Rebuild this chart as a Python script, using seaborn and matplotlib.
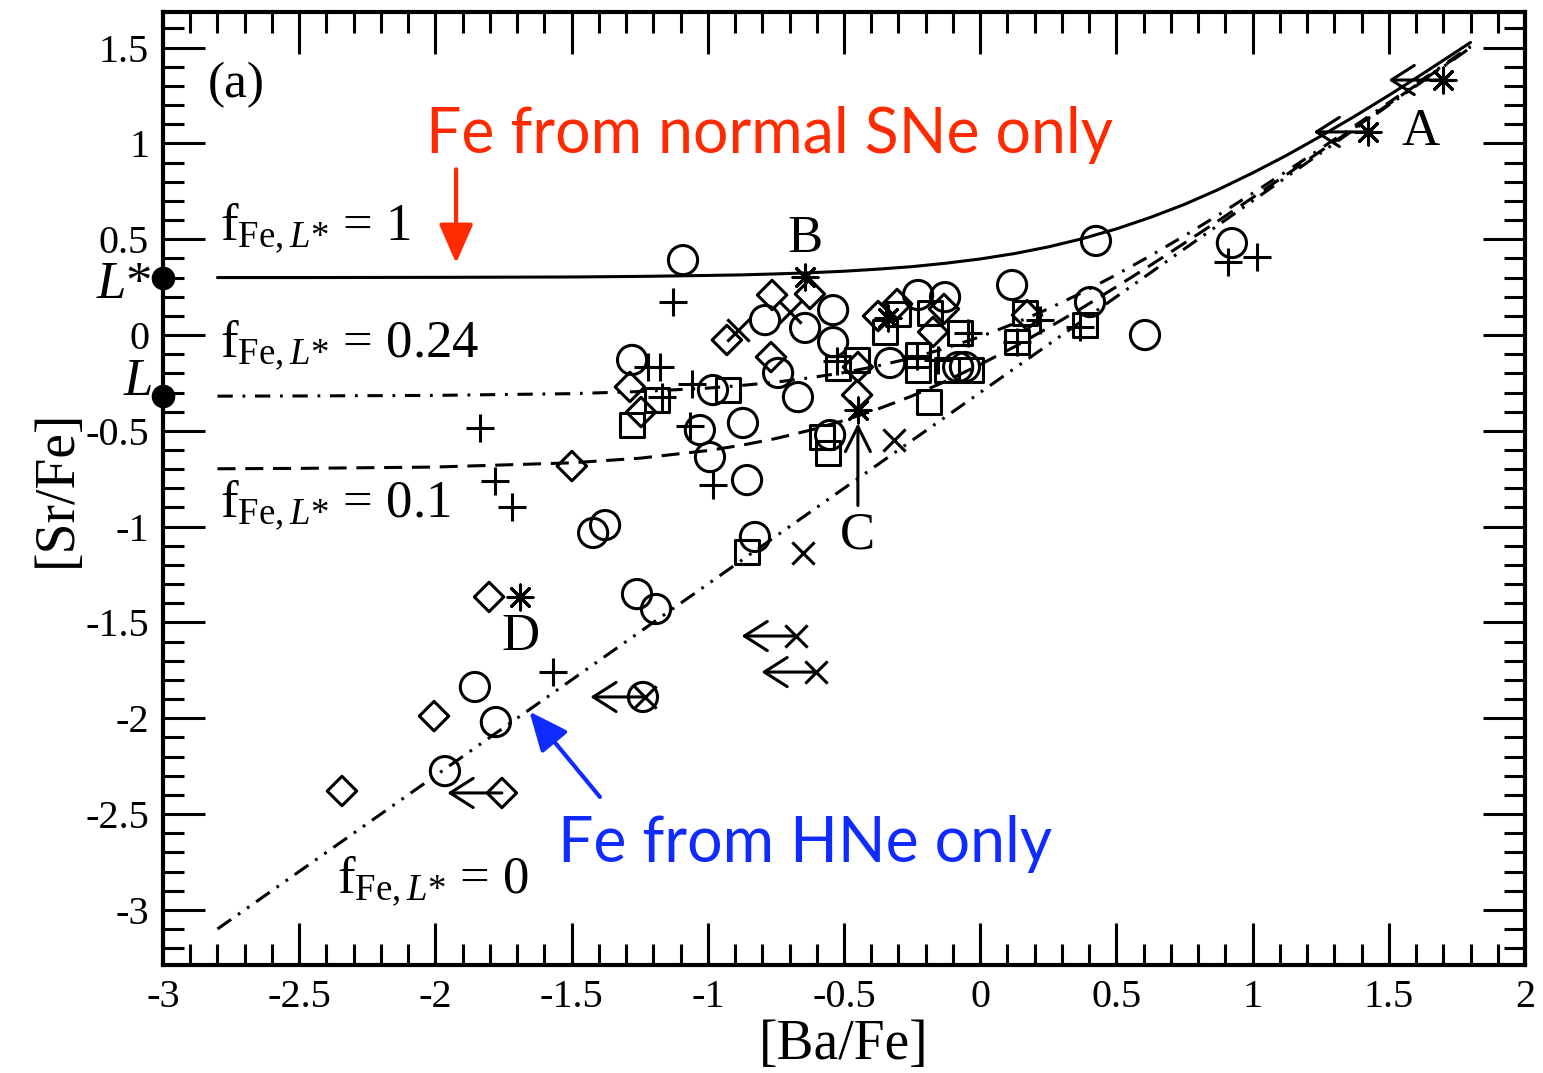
import numpy as np
import pandas as pd
import matplotlib
matplotlib.use("Agg")
import matplotlib.pyplot as plt
from matplotlib.ticker import MultipleLocator, FuncFormatter
import seaborn as sns

# ---------------- data ----------------
# model curves
curve_x = [-2.8, -2.5, -2.0, -1.5, -1.25, -1.0, -0.875, -0.75, -0.625, -0.5, -0.375, -0.25, -0.125, 0.0,
           0.125, 0.25, 0.375, 0.5, 0.625, 0.75, 0.875, 1.0, 1.125, 1.25, 1.375, 1.5, 1.625, 1.8]
curve_f1 = [0.300, 0.300, 0.301, 0.303, 0.306, 0.311, 0.314, 0.319, 0.325, 0.333, 0.344, 0.357, 0.375, 0.397,
            0.425, 0.460, 0.503, 0.554, 0.614, 0.682, 0.760, 0.846, 0.938, 1.038, 1.142, 1.251, 1.364, 1.527]
curve_f024 = [-0.319, -0.318, -0.315, -0.306, -0.295, -0.277, -0.263, -0.246, -0.223, -0.196, -0.161, -0.119,
              -0.068, -0.009, 0.060, 0.137, 0.222, 0.315, 0.414, 0.518, 0.627, 0.740, 0.855, 0.973, 1.092,
              1.213, 1.335, 1.507]
curve_f01 = [-0.698, -0.696, -0.689, -0.667, -0.643, -0.603, -0.575, -0.540, -0.497, -0.446, -0.386, -0.318,
             -0.240, -0.154, -0.062, 0.038, 0.142, 0.252, 0.364, 0.480, 0.597, 0.717, 0.838, 0.960, 1.082,
             1.205, 1.329, 1.503]
curve_f0 = [-3.10, -2.80, -2.30, -1.80, -1.55, -1.30, -1.175, -1.05, -0.925, -0.80, -0.675, -0.55, -0.425, -0.30,
            -0.175, -0.05, 0.075, 0.20, 0.325, 0.45, 0.575, 0.70, 0.825, 0.95, 1.075, 1.20, 1.325, 1.50]

circ_x = [-1.091, -1.278, -0.981, -0.790, -0.643, -0.540, -0.540, -0.742, -0.669, -1.029, -0.871, -0.992,
          -0.856, -0.551, -0.331, -0.228, -0.129, 0.117, -0.081, -0.056, -1.377, -1.421, -0.827, -1.260,
          -1.190, -1.855, -1.778, -1.965, -1.238, 0.425, 0.924, 0.403, 0.605]
circ_y = [0.391, -0.130, -0.287, 0.078, 0.037, 0.130, -0.037, -0.198, -0.324, -0.496, -0.459, -0.637,
          -0.757, -0.522, -0.146, 0.209, 0.198, 0.261, -0.167, -0.167, -0.992, -1.033, -1.054, -1.352,
          -1.430, -1.837, -2.020, -2.276, -1.889, 0.491, 0.480, 0.172, 0.000]

sq_x = [-1.278, -1.186, -0.926, -0.581, -0.559, -0.856, -0.522, -0.452, -0.349, -0.302, -0.184, -0.074,
        -0.228, -0.228, -0.188, -0.122, -0.034, 0.135, 0.164, 0.385]
sq_y = [-0.470, -0.339, -0.287, -0.532, -0.616, -1.133, -0.172, -0.130, 0.016, 0.110, 0.115, 0.010,
        -0.183, -0.104, -0.350, -0.183, -0.183, -0.037, 0.115, 0.052]

dia_x = [-0.764, -0.625, -0.930, -0.768, -1.286, -1.245, -1.499, -0.452, -0.375, -0.305, -0.133, -0.173,
         -0.449, 0.172, -1.803, -2.005, -2.343, -1.756]
dia_y = [0.209, 0.214, -0.026, -0.115, -0.271, -0.402, -0.684, -0.313, 0.099, 0.162, 0.136, 0.016,
         -0.167, 0.104, -1.367, -1.989, -2.380, -2.390]

plus_x = [-1.128, -1.836, -1.781, -1.719, -1.568, -0.981, -1.065, -1.058, -1.220, -1.175, -1.168, -0.526,
          -0.232, -0.155, -0.045, 0.220, 0.366, 0.135, 0.910, 1.016]
plus_y = [0.172, -0.485, -0.762, -0.898, -1.759, -0.783, -0.475, -0.256, -0.167, -0.167, -0.324, -0.136,
          -0.110, -0.130, 0.010, 0.078, 0.042, -0.037, 0.381, 0.407]

cross_x = [-0.316, -0.651, -0.676, -0.603, -1.231, -0.889, -0.698]
cross_y = [-0.548, -1.138, -1.571, -1.759, -1.889, 0.026, 0.120]

star_x = [-0.643, -0.449, -1.689, 1.424, 1.699, -0.338]
star_y = [0.303, -0.391, -1.367, 1.060, 1.331, 0.089]

# upper limits in [Ba/Fe] (arrows pointing left)
lim_x = [1.699, 1.424, -0.676, -0.603, -1.231, -1.756]
lim_y = [1.331, 1.060, -1.571, -1.759, -1.889, -2.390]
lim_len = 0.2

# L and L* levels
level_names = ["$L$*", "$L$"]
level_y = [0.30, -0.32]

# ---------------- style ----------------
sns.set_style("ticks")
serif = ["Liberation Serif", "DejaVu Serif"]
K = "black"
plt.rcParams["font.family"] = serif
plt.rcParams["mathtext.fontset"] = "custom"
plt.rcParams["mathtext.rm"] = "Liberation Serif"
plt.rcParams["mathtext.it"] = "Liberation Serif:italic"
plt.rcParams["mathtext.bf"] = "Liberation Serif:bold"
plt.rcParams["axes.unicode_minus"] = False
plt.rcParams["lines.scale_dashes"] = False
for key in ["text.color", "axes.labelcolor", "xtick.color", "ytick.color", "axes.edgecolor",
            "xtick.labelcolor", "ytick.labelcolor"]:
    plt.rcParams[key] = K

fig = plt.figure(figsize=(15.43, 10.73), dpi=100)
ax = fig.add_axes([163 / 1543, 1 - 965 / 1073, (1525 - 163) / 1543, (965 - 12) / 1073])

LW = 2.2

# curves
styles = [
    (curve_f1, "-"),
    (curve_f024, (0, (11, 7, 2, 7))),
    (curve_f01, (0, (13, 7))),
    (curve_f0, (0, (12, 6, 2, 6, 2, 6))),
]
for yy, ls in styles:
    sns.lineplot(x=curve_x, y=yy, ax=ax, color=K, lw=LW, errorbar=None, sort=False)
    ax.lines[-1].set_linestyle(ls)

# markers
open_kw = dict(facecolors="none", edgecolor=K, linewidth=LW, ax=ax, zorder=5)
sns.scatterplot(x=circ_x, y=circ_y, marker="o", s=21 ** 2, **open_kw)
sns.scatterplot(x=sq_x, y=sq_y, marker="s", s=17 ** 2, **open_kw)
sns.scatterplot(x=dia_x, y=dia_y, marker="D", s=15 ** 2, **open_kw)
line_kw = dict(color=K, linewidth=LW, ax=ax, zorder=5)
sns.scatterplot(x=plus_x, y=plus_y, marker="+", s=20 ** 2, **line_kw)
sns.scatterplot(x=cross_x, y=cross_y, marker="x", s=16 ** 2, **line_kw)
sns.scatterplot(x=star_x, y=star_y, marker=(8, 2, 0), s=18 ** 2, **line_kw)

# upper-limit arrows
for xx, yy in zip(lim_x, lim_y):
    ax.annotate("", xy=(xx - lim_len, yy), xytext=(xx, yy),
                arrowprops=dict(arrowstyle="->,head_length=0.55,head_width=0.35",
                                lw=LW, color=K, shrinkA=0, shrinkB=0, mutation_scale=30))

# L / L* filled dots on the axis
sns.scatterplot(x=[-3.0, -3.0], y=level_y, marker="o", s=17 ** 2, color=K, ax=ax,
                linewidth=0, zorder=10, clip_on=False)
for name, yy in zip(level_names, [0.26, -0.245]):
    ax.text(-3.04, yy, name, ha="right", va="center", fontsize=38, clip_on=False)

# labels
ax.text(-2.835, 1.305, "(a)", fontsize=37, ha="left", va="center")
ax.text(1.615, 1.06, "A", fontsize=38, ha="center", va="center")
ax.text(-0.643, 0.50, "B", fontsize=38, ha="center", va="center")
ax.text(-0.449, -1.044, "C", fontsize=38, ha="center", va="center")
ax.text(-1.689, -1.576, "D", fontsize=38, ha="center", va="center")
ax.annotate("", xy=(-0.449, -0.46), xytext=(-0.449, -0.89),
            arrowprops=dict(arrowstyle="->,head_length=0.6,head_width=0.3", lw=LW,
                            color=K, shrinkA=0, shrinkB=0, mutation_scale=30))

flab = r"f$_{\mathrm{Fe},L{*}}$"
ax.text(-2.79, 0.496, flab + " = 1", fontsize=38, ha="left", va="baseline")
ax.text(-2.79, -0.115, flab + " = 0.24", fontsize=38, ha="left", va="baseline")
ax.text(-2.79, -0.95, flab + " = 0.1", fontsize=38, ha="left", va="baseline")
ax.text(-2.361, -2.912, flab + " = 0", fontsize=38, ha="left", va="baseline")

red = "#FF2A00"
blue = "#0F2BFF"
ax.text(-0.775, 0.95, "Fe from normal SNe only", color=red, fontsize=45,
        family=["Lato", "DejaVu Sans"], ha="center", va="baseline")
ax.annotate("", xy=(-1.924, 0.375), xytext=(-1.924, 0.865),
            arrowprops=dict(arrowstyle="-|>,head_length=0.8,head_width=0.35", lw=3,
                            color=red, shrinkA=0, shrinkB=0, mutation_scale=30))
ax.text(-0.643, -2.75, "Fe from HNe only", color=blue, fontsize=45,
        family=["Lato", "DejaVu Sans"], ha="center", va="baseline")
ax.annotate("", xy=(-1.655, -1.965), xytext=(-1.396, -2.411),
            arrowprops=dict(arrowstyle="-|>,head_length=0.8,head_width=0.35", lw=3,
                            color=blue, shrinkA=0, shrinkB=0, mutation_scale=30))

# axes
ax.set_xlim(-3, 2)
ax.set_ylim(-3.288, 1.686)
ax.xaxis.set_major_locator(MultipleLocator(0.5))
ax.xaxis.set_minor_locator(MultipleLocator(0.1))
ax.yaxis.set_major_locator(MultipleLocator(0.5))
ax.yaxis.set_minor_locator(MultipleLocator(0.1))
fmt = FuncFormatter(lambda v, p: ("%g" % round(v, 2)) if abs(v) > 1e-9 else "0")
ax.xaxis.set_major_formatter(fmt)
ax.yaxis.set_major_formatter(fmt)
ax.tick_params(which="both", direction="in", top=True, right=True, width=LW, labelsize=29,
               color=K, labelcolor=K)
ax.tick_params(which="major", length=30, pad=10)
ax.tick_params(which="minor", length=15)
for sp in ax.spines.values():
    sp.set_linewidth(3)
    sp.set_color(K)
ax.set_xlabel("[Ba/Fe]", fontsize=40, labelpad=2)
ax.set_ylabel("[Sr/Fe]", fontsize=40, labelpad=2)
ax.grid(False)

fig.savefig("out.png", dpi=100)
